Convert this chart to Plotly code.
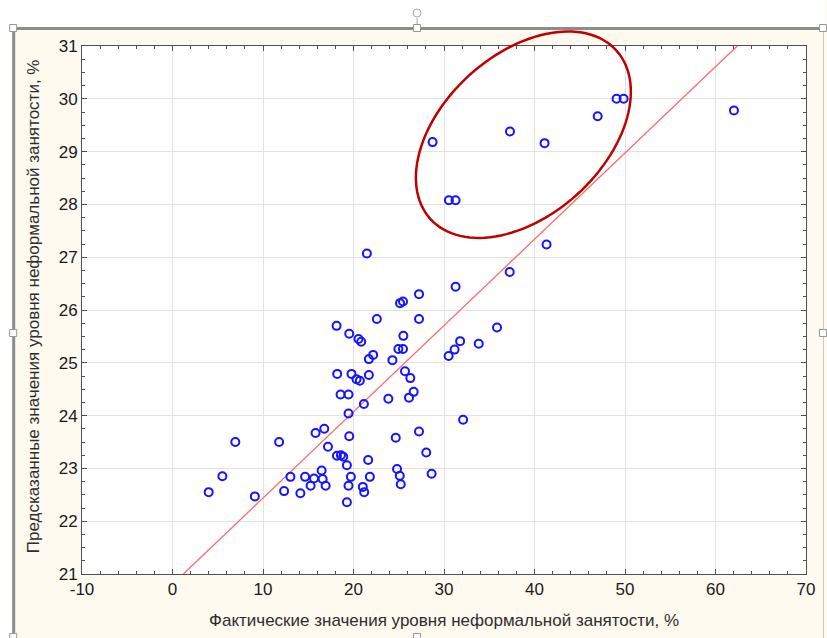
import numpy as np
import plotly.graph_objects as go

# Actual (x) vs predicted (y) informal employment, %
actual = [6.94, 11.78, 5.51, 4.0, 9.10, 13.03, 12.33, 15.26, 16.92, 14.13, 19.27,
          31.28, 27.24, 25.14, 25.47, 22.58, 27.24, 18.13, 19.53, 20.55, 20.85,
          25.51, 24.96, 25.47, 22.17, 21.70, 24.30, 30.51, 31.17, 31.78, 33.84,
          35.86, 18.2, 19.78, 20.33, 20.70, 21.70, 25.69, 26.28, 18.57, 19.45,
          26.65, 26.13, 23.85, 21.15, 19.45, 32.11, 15.81, 16.77, 19.53, 24.67,
          27.24, 17.18, 18.17, 18.61, 18.87, 19.27, 21.62, 28.04, 24.81, 25.11,
          28.63, 19.71, 21.81, 14.65, 15.64, 16.59, 16.48,
          19.45, 21.03, 21.18, 25.22,
          21.48, 37.26,
          28.74, 37.29, 41.11, 46.98, 49.07, 49.85, 62.04, 30.54, 31.28, 41.33]
predicted = [23.50, 23.50, 22.85, 22.55, 22.47, 22.84, 22.57, 22.67, 22.67, 22.53, 22.36,
             26.44, 26.30, 26.13, 26.16, 25.83, 25.83, 25.70, 25.55, 25.45, 25.40,
             25.51, 25.26, 25.26, 25.15, 25.07, 25.05, 25.13, 25.25, 25.41, 25.36,
             25.67, 24.79, 24.79, 24.69, 24.66, 24.77, 24.84, 24.71, 24.40, 24.40,
             24.45, 24.34, 24.32, 24.22, 24.04, 23.92, 23.67, 23.75, 23.61, 23.58,
             23.70, 23.41, 23.24, 23.25, 23.22, 23.06, 23.16, 23.30, 22.99, 22.86,
             22.90, 22.84, 22.84, 22.84, 22.81, 22.80, 22.96,
             22.67, 22.65, 22.55, 22.70,
             27.07, 26.72,
             29.18, 29.38, 29.16, 29.67, 30.00, 30.00, 29.78, 28.08, 28.08, 27.24]

fit_x = [1.2, 62.4]
fit_y = [21.0, 31.0]

x_ticks = [-10, 0, 10, 20, 30, 40, 50, 60, 70]
y_ticks = [21, 22, 23, 24, 25, 26, 27, 28, 29, 30, 31]

# highlighted cluster ellipse (data units): centre and two half-axis vectors
ell_center = (38.77, 29.32)
ell_u = (10.29, 1.593)
ell_v = (-5.93, 1.133)

X_RANGE = [-10, 70]
Y_RANGE = [21, 31]

fig = go.Figure()
fig.add_trace(go.Scatter(x=fit_x, y=fit_y, mode="lines",
                         line=dict(color="rgb(255,105,105)", width=1.3),
                         hoverinfo="skip", showlegend=False))
fig.add_trace(go.Scatter(x=actual, y=predicted, mode="markers",
                         marker=dict(symbol="circle-open", size=8,
                                     color="rgb(20,20,255)", line=dict(width=2)),
                         showlegend=False, cliponaxis=False))

# ellipse path in axis-domain fractions
t = np.linspace(0, 2 * np.pi, 121)
ex = ell_center[0] + ell_u[0] * np.cos(t) + ell_v[0] * np.sin(t)
ey = ell_center[1] + ell_u[1] * np.cos(t) + ell_v[1] * np.sin(t)
fx = (ex - X_RANGE[0]) / (X_RANGE[1] - X_RANGE[0])
fy = (ey - Y_RANGE[0]) / (Y_RANGE[1] - Y_RANGE[0])
path = "M " + " L ".join(f"{a:.5f},{b:.5f}" for a, b in zip(fx, fy)) + " Z"

W, H = 827, 638
L, R, T, B = 82, 19, 46, 64
pw, ph = W - L - R, H - T - B


def px(xp):
    return (xp - L) / pw


def py(yp):
    return (H - B - yp) / ph


shapes = [
    dict(type="path", path=path, xref="x domain", yref="y domain",
         line=dict(color="rgb(192,0,0)", width=2.5), layer="above"),
    # white margins outside the frame
    dict(type="rect", xref="paper", yref="paper", x0=px(0), x1=px(W), y0=py(0), y1=py(27),
         fillcolor="white", line=dict(width=0), layer="below"),
    dict(type="rect", xref="paper", yref="paper", x0=px(0), x1=px(12), y0=py(0), y1=py(H),
         fillcolor="white", line=dict(width=0), layer="below"),
    # gray frame
    dict(type="line", xref="paper", yref="paper", x0=px(12), x1=px(W), y0=py(28.5), y1=py(28.5),
         line=dict(color="rgb(140,140,140)", width=3)),
    dict(type="line", xref="paper", yref="paper", x0=px(13.5), x1=px(13.5), y0=py(28), y1=py(H),
         line=dict(color="rgb(140,140,140)", width=3)),
    dict(type="line", xref="paper", yref="paper", x0=px(825.5), x1=px(825.5), y0=py(30), y1=py(H),
         line=dict(color="rgb(200,200,200)", width=1)),
    # rotation handle stem
    dict(type="line", xref="paper", yref="paper", x0=px(418), x1=px(418), y0=py(18), y1=py(25),
         line=dict(color="rgb(170,170,170)", width=1)),
    dict(type="circle", xref="paper", yref="paper", x0=px(414), x1=px(422), y0=py(9), y1=py(17),
         line=dict(color="rgb(170,170,170)", width=1), fillcolor="white"),
]
for hx, hy in [(13, 28), (418, 28), (825, 28), (13, 333), (825, 333), (13, 637), (418, 637)]:
    shapes.append(dict(type="rect", xref="paper", yref="paper",
                       x0=px(hx - 3.5), x1=px(hx + 3.5), y0=py(hy - 3.5), y1=py(hy + 3.5),
                       fillcolor="white", line=dict(color="rgb(150,150,150)", width=1)))

font_family = "Liberation Sans, Arial, sans-serif"
axis_common = dict(showline=True, linecolor="rgb(80,80,80)", linewidth=1, mirror="ticks",
                   ticks="inside", ticklen=5, tickcolor="rgb(80,80,80)",
                   showgrid=True, gridcolor="rgb(226,226,226)", gridwidth=1,
                   zeroline=False, tickfont=dict(family=font_family, size=17, color="rgb(25,25,25)"))

fig.update_layout(
    width=W, height=H,
    margin=dict(l=L, r=R, t=T, b=B, pad=0),
    paper_bgcolor="rgb(255,250,240)",
    plot_bgcolor="white",
    showlegend=False,
    xaxis=dict(range=X_RANGE, tickvals=x_ticks, ticktext=[str(v) for v in x_ticks],
               minor=dict(dtick=2, tick0=0, ticks="inside", ticklen=3, tickcolor="rgb(80,80,80)",
                          showgrid=False),
               **axis_common),
    yaxis=dict(range=Y_RANGE, tickvals=y_ticks, ticktext=[str(v) for v in y_ticks],
               minor=dict(dtick=0.25, tick0=21, ticks="inside", ticklen=3, tickcolor="rgb(80,80,80)",
                          showgrid=False),
               **axis_common),
    shapes=shapes,
    annotations=[
        dict(text="Фактические значения уровня неформальной занятости, %",
             xref="paper", yref="paper", x=px(445), y=py(620), xanchor="center", yanchor="middle",
             showarrow=False, font=dict(family=font_family, size=17, color="rgb(45,45,45)")),
        dict(text="Предсказанные значения уровня неформальной занятости, %",
             xref="paper", yref="paper", x=px(33), y=py(306), xanchor="center", yanchor="middle",
             textangle=-90, showarrow=False,
             font=dict(family=font_family, size=17, color="rgb(45,45,45)")),
    ],
)

fig.write_html("out.html")
